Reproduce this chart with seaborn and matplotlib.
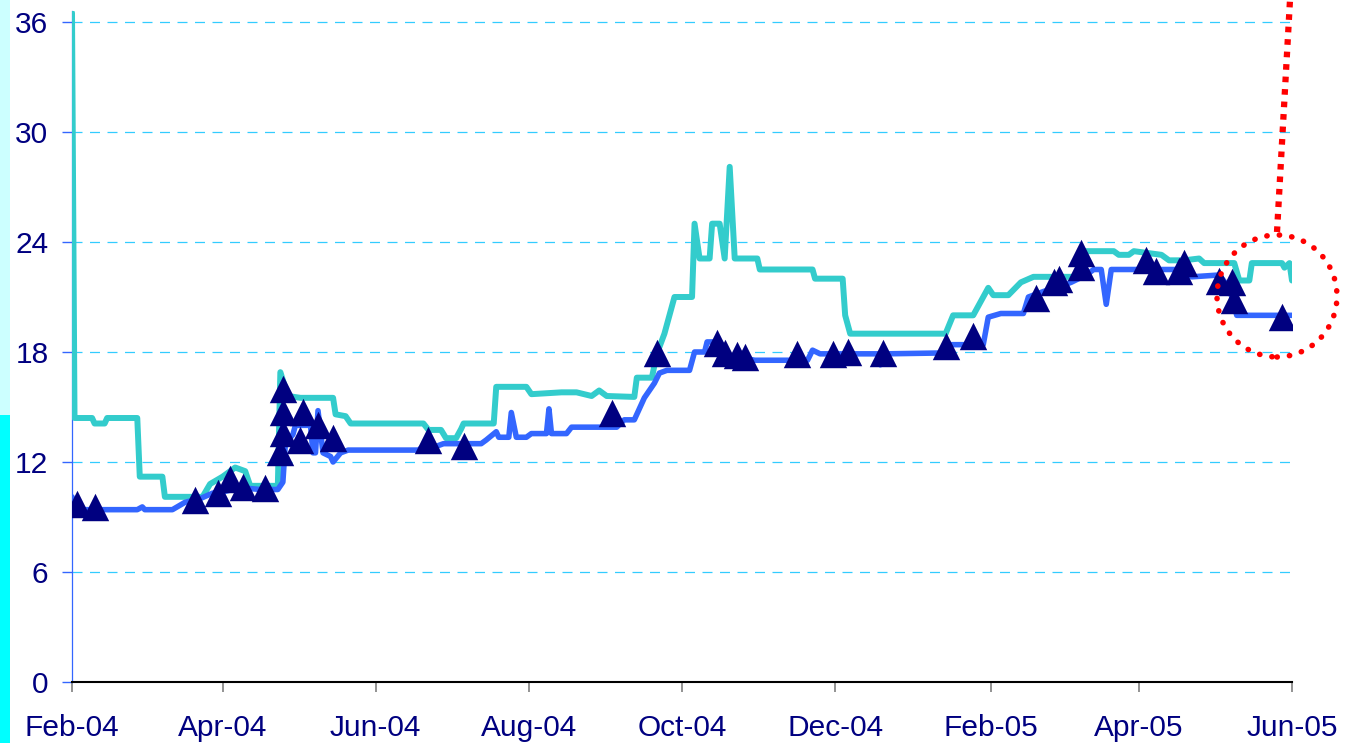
import numpy as np
import pandas as pd
import matplotlib
matplotlib.use("Agg")
import matplotlib.pyplot as plt
from matplotlib.patches import Ellipse, Rectangle
from matplotlib.lines import Line2D
import seaborn as sns

# ---------------- data ----------------
teal_dates = [
    "2004-02-01", "2004-02-02", "2004-02-09", "2004-02-10", "2004-02-14", "2004-02-15",
    "2004-02-27", "2004-02-28", "2004-03-08", "2004-03-09", "2004-03-24", "2004-03-27",
    "2004-04-01", "2004-04-06", "2004-04-10", "2004-04-12", "2004-04-23", "2004-04-24",
    "2004-04-27", "2004-05-02", "2004-05-15", "2004-05-16", "2004-05-20", "2004-05-22",
    "2004-06-20", "2004-06-22", "2004-06-27", "2004-06-29", "2004-07-03", "2004-07-05",
    "2004-07-06", "2004-07-18", "2004-07-19", "2004-07-31", "2004-08-02", "2004-08-14",
    "2004-08-20", "2004-08-26", "2004-08-29", "2004-09-01", "2004-09-12", "2004-09-13",
    "2004-09-19", "2004-09-21", "2004-09-24", "2004-09-26", "2004-09-28", "2004-10-05",
    "2004-10-06", "2004-10-08", "2004-10-12", "2004-10-13", "2004-10-16", "2004-10-18",
    "2004-10-20", "2004-10-22", "2004-10-31", "2004-11-01", "2004-11-22", "2004-11-23",
    "2004-12-04", "2004-12-05", "2004-12-07", "2005-01-14", "2005-01-17", "2005-01-25",
    "2005-01-29", "2005-01-31", "2005-02-02", "2005-02-08", "2005-02-13", "2005-02-18",
    "2005-03-08", "2005-03-10", "2005-03-22", "2005-03-24", "2005-03-28", "2005-03-30",
    "2005-04-10", "2005-04-13", "2005-04-19", "2005-04-25", "2005-04-27", "2005-05-09",
    "2005-05-11", "2005-05-15", "2005-05-16", "2005-05-28", "2005-05-29", "2005-05-31",
    "2005-06-01",
]
teal_values = [
    36.5, 14.4, 14.4, 14.1, 14.1, 14.4,
    14.4, 11.2, 11.2, 10.1, 10.1, 10.8,
    11.2, 11.7, 11.5, 10.7, 10.7, 16.9,
    15.6, 15.5, 15.5, 14.6, 14.5, 14.1,
    14.1, 13.75, 13.75, 13.3, 13.3, 13.8,
    14.1, 14.1, 16.1, 16.1, 15.7, 15.8,
    15.8, 15.6, 15.9, 15.6, 15.55, 16.6,
    16.6, 17.9, 19.0, 20.0, 21.0, 21.0,
    25.0, 23.1, 23.1, 25.0, 25.0, 23.1,
    28.1, 23.1, 23.1, 22.5, 22.5, 22.0,
    22.0, 20.0, 19.0, 19.0, 20.0, 20.0,
    21.0, 21.5, 21.1, 21.1, 21.8, 22.1,
    22.1, 23.5, 23.5, 23.3, 23.3, 23.5,
    23.3, 23.0, 23.0, 23.1, 22.85, 22.85,
    21.9, 21.9, 22.85, 22.85, 22.6, 22.85,
    21.9,
]

blue_dates = [
    "2004-02-01", "2004-02-03", "2004-02-27", "2004-02-29", "2004-03-01", "2004-03-12",
    "2004-03-17", "2004-03-23", "2004-03-28", "2004-04-02", "2004-04-08", "2004-04-16",
    "2004-04-23", "2004-04-25", "2004-04-26", "2004-04-29", "2004-04-30", "2004-05-06",
    "2004-05-07", "2004-05-08", "2004-05-09", "2004-05-11", "2004-05-14", "2004-05-15",
    "2004-05-18", "2004-05-21", "2004-06-18", "2004-06-20", "2004-06-25", "2004-06-28",
    "2004-07-13", "2004-07-15", "2004-07-19", "2004-07-20", "2004-07-24", "2004-07-25",
    "2004-07-27", "2004-07-31", "2004-08-02", "2004-08-08", "2004-08-09", "2004-08-10",
    "2004-08-16", "2004-08-18", "2004-09-05", "2004-09-08", "2004-09-12", "2004-09-16",
    "2004-09-20", "2004-09-22", "2004-09-25", "2004-10-04", "2004-10-06", "2004-10-10",
    "2004-10-11", "2004-10-16", "2004-10-20", "2004-10-30", "2004-11-20", "2004-11-22",
    "2004-11-25", "2004-12-18", "2004-12-19", "2004-12-21", "2005-01-14", "2005-01-16",
    "2005-01-29", "2005-01-31", "2005-02-05", "2005-02-14", "2005-02-16", "2005-02-22",
    "2005-03-01", "2005-03-05", "2005-03-11", "2005-03-14", "2005-03-17", "2005-03-19",
    "2005-03-21", "2005-04-20", "2005-04-22", "2005-05-03", "2005-05-07", "2005-05-10",
    "2005-06-01",
]
blue_values = [
    10.1, 9.4, 9.4, 9.55, 9.4, 9.4,
    9.8, 10.0, 10.3, 10.4, 10.6, 10.5,
    10.5, 10.9, 13.0, 13.5, 14.0, 14.0,
    12.5, 12.5, 14.8, 12.5, 12.3, 12.0,
    12.5, 12.65, 12.65, 12.85, 12.85, 13.0,
    13.0, 13.2, 13.65, 13.35, 13.35, 14.7,
    13.35, 13.35, 13.55, 13.55, 14.9, 13.55,
    13.55, 13.9, 13.9, 14.3, 14.3, 15.5,
    16.3, 16.85, 17.0, 17.0, 18.0, 18.0,
    18.55, 18.55, 17.8, 17.55, 17.55, 18.1,
    17.9, 17.9, 17.3, 17.9, 17.95, 18.4,
    18.4, 19.9, 20.1, 20.1, 21.0, 21.3,
    21.6, 21.8, 22.2, 22.5, 22.5, 20.6,
    22.5, 22.5, 22.1, 22.2, 21.5, 20.0,
    20.0,
]

marker_dates = [
    "2004-02-03", "2004-02-10", "2004-03-21", "2004-03-30", "2004-04-04", "2004-04-09",
    "2004-04-18", "2004-04-25", "2004-04-25", "2004-04-25", "2004-04-24", "2004-05-03",
    "2004-05-02", "2004-05-09", "2004-05-15", "2004-06-22", "2004-07-06", "2004-09-03",
    "2004-09-21", "2004-10-15", "2004-10-18", "2004-10-23", "2004-10-26", "2004-11-16",
    "2004-11-30", "2004-12-06", "2004-12-20", "2005-01-14", "2005-01-25", "2005-02-19",
    "2005-02-26", "2005-02-28", "2005-03-09", "2005-03-09", "2005-04-04", "2005-04-08",
    "2005-04-17", "2005-04-19", "2005-05-03", "2005-05-08", "2005-05-09", "2005-05-28",
]
marker_values = [
    9.7, 9.55, 9.95, 10.3, 11.1, 10.65,
    10.6, 16.0, 14.75, 13.6, 12.55, 14.75,
    13.2, 14.0, 13.3, 13.2, 12.85, 14.65,
    17.95, 18.5, 17.95, 17.85, 17.7, 17.9,
    17.9, 18.0, 17.95, 18.3, 18.9, 20.95,
    21.8, 22.0, 22.65, 23.4, 23.0, 22.4,
    22.4, 22.85, 21.9, 21.8, 20.85, 19.9,
]

tick_dates = ["2004-02-01", "2004-04-01", "2004-06-01", "2004-08-01", "2004-10-01",
              "2004-12-01", "2005-02-01", "2005-04-01", "2005-06-01"]
tick_labels = ["Feb-04", "Apr-04", "Jun-04", "Aug-04", "Oct-04",
               "Dec-04", "Feb-05", "Apr-05", "Jun-05"]
y_ticks = [0, 6, 12, 18, 24, 30, 36]

# ---------------- style ----------------
sns.set_theme(style="white")
plt.rcParams['font.family'] = ['Liberation Sans', 'DejaVu Sans']

W, H = 1354, 743
fig = plt.figure(figsize=(W / 100, H / 100), dpi=100)
fig.patch.set_facecolor("white")

ax = fig.add_axes([72 / W, 61 / H, 1220 / W, 671 / H])
ax.set_facecolor("white")

teal_df = pd.DataFrame({"date": pd.to_datetime(teal_dates), "value": teal_values})
blue_df = pd.DataFrame({"date": pd.to_datetime(blue_dates), "value": blue_values})
mk_df = pd.DataFrame({"date": pd.to_datetime(marker_dates), "value": marker_values})

sns.lineplot(data=teal_df, x="date", y="value", ax=ax, color="#33CCCC",
             linewidth=4.3, estimator=None, sort=False,
             solid_joinstyle="round", solid_capstyle="round", zorder=3)
sns.lineplot(data=blue_df, x="date", y="value", ax=ax, color="#3366FF",
             linewidth=4.0, estimator=None, sort=False,
             solid_joinstyle="round", solid_capstyle="round", zorder=4)
sns.scatterplot(data=mk_df, x="date", y="value", ax=ax, marker="^", s=390,
                color="#000080", linewidth=0, zorder=5)

ax.set_xlim(pd.Timestamp("2004-02-01"), pd.Timestamp("2005-06-01"))
ax.set_ylim(0, 36.6)
ax.set_xticks(pd.to_datetime(tick_dates))
ax.set_xticklabels(tick_labels)
ax.set_yticks(y_ticks)
ax.set_yticklabels([str(v) for v in y_ticks])
ax.set_xlabel("")
ax.set_ylabel("")

ax.grid(False)
for v in y_ticks[1:]:
    ax.axhline(v, color="#33CCFF", linewidth=0.9, linestyle=(0, (8, 6)), zorder=1)

for s in ["top", "right"]:
    ax.spines[s].set_visible(False)
ax.spines["left"].set_color("#3366FF")
ax.spines["left"].set_linewidth(0.9)
ax.spines["bottom"].set_color("black")
ax.spines["bottom"].set_linewidth(1.5)

ax.tick_params(axis="x", bottom=True, direction="out", length=7, width=1.2,
               color="#808080", pad=16, labelsize=21.5, labelcolor="#000080")
ax.tick_params(axis="y", left=True, direction="out", length=7, width=1.0,
               color="#3366FF", pad=10, labelsize=21.5, labelcolor="#000080")

# ---------------- decorations ----------------
fig.add_artist(Rectangle((0, 0), 10 / W, 1 - 415 / H, transform=fig.transFigure,
                         facecolor="#00FFFF", edgecolor="none", zorder=0))
fig.add_artist(Rectangle((0, 1 - 415 / H), 10 / W, 415 / H, transform=fig.transFigure,
                         facecolor="#CCFFFF", edgecolor="none", zorder=0))

circ = Ellipse((1277 / W, 1 - 296 / H), 120 / W, 122 / H, transform=fig.transFigure,
               fill=False, edgecolor="#FF0000", linewidth=4.0,
               linestyle=(0, (0.05, 2.2)), capstyle="round", zorder=10)
fig.add_artist(circ)
fig.add_artist(Line2D([1277 / W, 1290 / W], [1 - 232 / H, 1.0], transform=fig.transFigure,
                      color="#FF0000", linewidth=4.5, linestyle=(0, (0.9, 1.1)),
                      dash_capstyle="butt", zorder=10))

fig.savefig("out.png", dpi=100, facecolor="white")
